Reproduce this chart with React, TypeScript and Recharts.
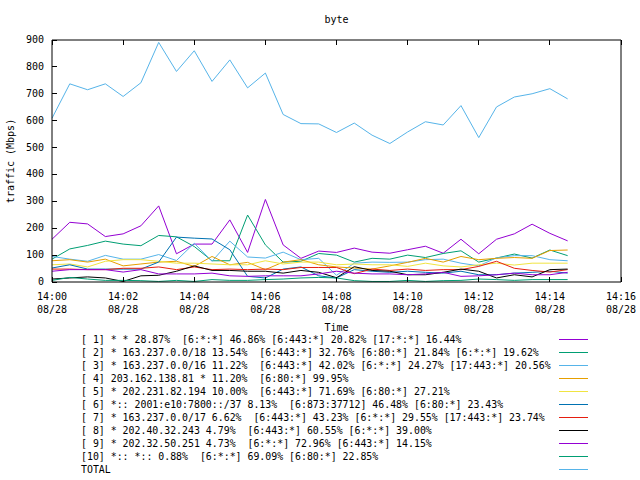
import { LineChart, Line, XAxis, YAxis, Label } from 'recharts'

const FONT = '"DejaVu Sans Mono", monospace'

const times = [
  '14:00:00', '14:00:30', '14:01:00', '14:01:30', '14:02:00', '14:02:30',
  '14:03:00', '14:03:30', '14:04:00', '14:04:30', '14:05:00', '14:05:30',
  '14:06:00', '14:06:30', '14:07:00', '14:07:30', '14:08:00', '14:08:30',
  '14:09:00', '14:09:30', '14:10:00', '14:10:30', '14:11:00', '14:11:30',
  '14:12:00', '14:12:30', '14:13:00', '14:13:30', '14:14:00', '14:14:30',
]
const xTickLabels = ['14:00', '14:02', '14:04', '14:06', '14:08', '14:10', '14:12', '14:14', '14:16']
const xTickDate = '08/28'
const yTicks = [0, 100, 200, 300, 400, 500, 600, 700, 800, 900]

const s1 = [159, 222, 216, 169, 179, 209, 283, 105, 141, 141, 231, 110, 307, 138, 88, 115, 110, 126, 111, 107, 120, 133, 107, 159, 105, 159, 179, 215, 181, 153]
const s2 = [85, 123, 136, 152, 141, 135, 173, 168, 132, 79, 79, 249, 138, 74, 77, 106, 100, 74, 88, 85, 100, 91, 106, 116, 74, 89, 104, 89, 119, 98]
const s3 = [95, 85, 77, 99, 85, 85, 102, 80, 144, 77, 152, 93, 89, 111, 83, 88, 25, 70, 74, 73, 74, 83, 85, 70, 60, 90, 98, 98, 83, 79]
const s4 = [79, 83, 74, 85, 60, 67, 74, 77, 58, 95, 64, 73, 46, 74, 83, 64, 56, 52, 48, 60, 73, 88, 74, 95, 83, 88, 91, 88, 117, 119]
const s5 = [64, 67, 56, 77, 83, 83, 77, 70, 70, 67, 64, 64, 79, 67, 74, 74, 64, 67, 64, 64, 58, 70, 60, 56, 64, 70, 63, 70, 70, 70]
const s6 = [52, 64, 48, 48, 48, 48, 74, 167, 163, 160, 120, 21, 15, 48, 56, 23, 15, 46, 40, 36, 40, 36, 33, 40, 27, 27, 33, 36, 40, 33]
const s7 = [48, 48, 46, 46, 51, 51, 56, 46, 56, 46, 48, 46, 48, 46, 54, 54, 54, 31, 48, 43, 48, 43, 46, 46, 58, 77, 51, 43, 37, 46]
const s8 = [11, 15, 19, 15, 2, 23, 25, 40, 60, 43, 43, 40, 40, 33, 43, 36, 16, 57, 43, 40, 27, 27, 36, 48, 40, 15, 27, 19, 46, 48]
const s9 = [40, 46, 46, 46, 37, 46, 30, 30, 30, 33, 23, 21, 23, 23, 23, 30, 40, 33, 30, 30, 27, 30, 36, 21, 23, 27, 33, 27, 27, 36]
const s10 = [6, 17, 11, 6, 6, 5, 2, 6, 2, 9, 6, 6, 9, 11, 15, 17, 15, 5, 2, 2, 6, 2, 5, 6, 11, 9, 6, 9, 9, 9]
const total = [609, 737, 715, 737, 690, 741, 891, 783, 860, 746, 826, 722, 777, 623, 589, 588, 556, 591, 546, 515, 558, 596, 584, 656, 537, 651, 688, 700, 719, 681]

const legendNames = [
  '[ 1] * * 28.87%  [6:*:*] 46.86% [6:443:*] 20.82% [17:*:*] 16.44%',
  '[ 2] * 163.237.0.0/18 13.54%  [6:443:*] 32.76% [6:80:*] 21.84% [6:*:*] 19.62%',
  '[ 3] * 163.237.0.0/16 11.22%  [6:443:*] 42.02% [6:*:*] 24.27% [17:443:*] 20.56%',
  '[ 4] 203.162.138.81 * 11.20%  [6:80:*] 99.95%',
  '[ 5] * 202.231.82.194 10.00%  [6:443:*] 71.69% [6:80:*] 27.21%',
  '[ 6] *:: 2001:e10:7800::/37 8.13%  [6:873:37712] 46.48% [6:80:*] 23.43%',
  '[ 7] * 163.237.0.0/17 6.62%  [6:443:*] 43.23% [6:*:*] 29.55% [17:443:*] 23.74%',
  '[ 8] * 202.40.32.243 4.79%  [6:443:*] 60.55% [6:*:*] 39.00%',
  '[ 9] * 202.32.50.251 4.73%  [6:*:*] 72.96% [6:443:*] 14.15%',
  '[10] *:: *:: 0.88%  [6:*:*] 69.09% [6:80:*] 22.85%',
  'TOTAL',
]
const colors = ['#9400d3', '#009e73', '#56b4e9', '#e69f00', '#f0e442', '#0072b2', '#e51e10', '#000000', '#9400d3', '#009e73', '#56b4e9']
const seriesValues = [s1, s2, s3, s4, s5, s6, s7, s8, s9, s10, total]

const toSec = (s: string) => {
  const [h, m, sec] = s.split(':').map(Number)
  return (h - 14) * 3600 + m * 60 + (sec || 0)
}
const xTicks = xTickLabels.map(toSec)

const data = times.map((tm, i) => {
  const row: any = { t: toSec(tm) }
  seriesValues.forEach((vals, k) => { row['s' + k] = vals[i] })
  return row
})

const txt = { fontFamily: FONT, fontSize: 10, fill: '#000' }

const fmtTime = (v: number) => {
  const m = Math.floor(v / 60)
  return `${14 + Math.floor(m / 60)}:${String(m % 60).padStart(2, '0')}`
}

const BottomTick = (p: any) => (
  <g>
    <line x1={p.x} x2={p.x} y1={p.y} y2={p.y - 5} stroke="#000" shapeRendering="crispEdges" />
    <text x={p.x} y={p.y + 15} textAnchor="middle" dominantBaseline="middle" style={txt}>{fmtTime(p.payload.value)}</text>
    <text x={p.x} y={p.y + 28} textAnchor="middle" dominantBaseline="middle" style={txt}>{xTickDate}</text>
  </g>
)
const TopTick = (p: any) => (
  <line x1={p.x} x2={p.x} y1={p.y} y2={p.y + 5} stroke="#000" shapeRendering="crispEdges" />
)
const LeftTick = (p: any) => (
  <g>
    <line x1={p.x} x2={p.x + 5} y1={p.y} y2={p.y} stroke="#000" shapeRendering="crispEdges" />
    <text x={p.x - 8} y={p.y} textAnchor="end" dominantBaseline="middle" style={txt}>{p.payload.value}</text>
  </g>
)
const RightTick = (p: any) => (
  <line x1={p.x} x2={p.x - 5} y1={p.y} y2={p.y} stroke="#000" shapeRendering="crispEdges" />
)

export default function App() {
  return (
    <div style={{ position: 'absolute', left: 0, top: 0, width: 640, height: 480, background: '#fff' }}>
      <LineChart width={640} height={480} data={data} margin={{ top: 0, right: 0, bottom: 0, left: 0 }}>
        <XAxis
          dataKey="t"
          type="number"
          domain={[0, 960]}
          ticks={xTicks}
          interval={0}
          height={198}
          tickSize={0}
          tickMargin={0}
          tickLine={false}
          stroke="#000"
          tick={BottomTick}
        >
          <Label content={({ viewBox }: any) => (
            <text x={viewBox.x + viewBox.width / 2} y={viewBox.y + 46} textAnchor="middle" dominantBaseline="middle" style={txt}>Time</text>
          )} />
        </XAxis>
        <XAxis
          xAxisId="top"
          orientation="top"
          dataKey="t"
          type="number"
          domain={[0, 960]}
          ticks={xTicks}
          interval={0}
          height={40}
          tickSize={0}
          tickMargin={0}
          tickLine={false}
          stroke="#000"
          tick={TopTick}
        >
          <Label content={({ viewBox }: any) => (
            <text x={viewBox.x + viewBox.width / 2} y={20} textAnchor="middle" dominantBaseline="middle" style={txt}>byte</text>
          )} />
        </XAxis>
        <YAxis
          type="number"
          domain={[0, 900]}
          ticks={yTicks}
          interval={0}
          width={52}
          tickSize={0}
          tickMargin={0}
          tickLine={false}
          stroke="#000"
          tick={LeftTick}
        >
          <Label content={({ viewBox }: any) => {
            const cx = 11
            const cy = viewBox.y + viewBox.height / 2
            return (
              <text x={cx} y={cy} transform={`rotate(-90 ${cx} ${cy})`} textAnchor="middle" dominantBaseline="middle" style={txt}>traffic (Mbps)</text>
            )
          }} />
        </YAxis>
        <YAxis
          yAxisId="right"
          orientation="right"
          type="number"
          domain={[0, 900]}
          ticks={yTicks}
          interval={0}
          width={19}
          tickSize={0}
          tickMargin={0}
          tickLine={false}
          stroke="#000"
          tick={RightTick}
        />
        {seriesValues.map((_, k) => (
          <Line
            key={k}
            type="linear"
            dataKey={'s' + k}
            name={legendNames[k]}
            stroke={colors[k]}
            strokeWidth={1}
            dot={false}
            activeDot={false}
            isAnimationActive={false}
          />
        ))}
      </LineChart>
      {legendNames.map((name, k) => (
        <div key={k} style={{ position: 'absolute', left: 0, top: 333 + k * 13, width: 640, height: 13 }}>
          <span style={{ position: 'absolute', left: 81, top: 0, lineHeight: '13px', fontFamily: FONT, fontSize: 9.9, whiteSpace: 'pre', color: '#000' }}>{name}</span>
          <div style={{ position: 'absolute', left: 559, width: 29, top: 6, borderTop: `1px solid ${colors[k]}` }} />
        </div>
      ))}
    </div>
  )
}
